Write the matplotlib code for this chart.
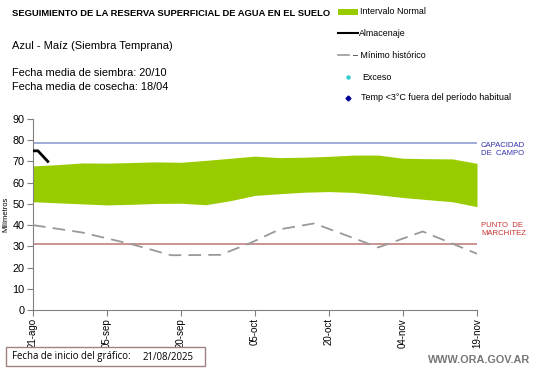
import matplotlib
matplotlib.use("Agg")
import matplotlib.pyplot as plt
from matplotlib.lines import Line2D
from matplotlib.patches import Rectangle
import numpy as np

plt.rcParams['font.family'] = ['Liberation Sans', 'DejaVu Sans']

# ---- data (days since 21-ago) ----
band_days = [0, 5, 10, 15, 20, 25, 30, 35, 40, 45, 50, 55, 60, 65, 70, 75, 80, 85, 90]
band_upper = [67.9, 68.5, 69.3, 69.2, 69.5, 69.8, 69.6, 70.5, 71.5, 72.5, 71.8, 72.0, 72.4, 73.0, 73.0, 71.5, 71.3, 71.2, 69.1]
band_lower = [51.0, 50.5, 50.0, 49.5, 49.8, 50.2, 50.3, 49.6, 51.5, 54.0, 54.8, 55.5, 55.8, 55.4, 54.3, 53.0, 52.0, 51.0, 48.7]

alm_days = [0, 1, 3]
alm_vals = [75.0, 75.0, 70.0]

min_days = [0, 10, 20, 28, 38, 44, 50, 57, 70, 79, 90]
min_vals = [40.0, 36.5, 31.0, 25.8, 26.0, 31.5, 38.0, 40.8, 29.5, 37.0, 26.5]

capacidad = 78.7
marchitez = 31.2

tick_days = [0, 15, 30, 45, 60, 75, 90]
tick_labels = ['21-ago', '05-sep', '20-sep', '05-oct', '20-oct', '04-nov', '19-nov']

W, H = 541, 368
fig = plt.figure(figsize=(W / 100, H / 100), dpi=100)
ax = fig.add_axes([33 / W, 1 - 310 / H, (477 - 33) / W, (310 - 119) / H])

ax.fill_between(band_days, band_lower, band_upper, color='#99cc00', lw=0, zorder=2)
ax.axhline(capacidad, color='#8f9fd0', lw=1.2, zorder=1)
ax.axhline(marchitez, color='#c08080', lw=1.2, zorder=1)
ax.plot(min_days, min_vals, color='#999999', lw=1.3, dashes=(7, 4), zorder=3)
ax.plot(alm_days, alm_vals, color='black', lw=2.0, zorder=4)

ax.set_xlim(0, 90)
ax.set_ylim(0, 90)
ax.set_yticks(range(0, 91, 10))
ax.set_xticks(tick_days)
ax.set_xticklabels(tick_labels, rotation=90)
ax.tick_params(axis='both', labelsize=7.8, length=4, color='#808080', pad=2)
ax.tick_params(axis='x', labelsize=7.0, pad=2)
for s in ['top', 'right']:
    ax.spines[s].set_visible(False)
for s in ['left', 'bottom']:
    ax.spines[s].set_color('#808080')
ax.set_ylabel('Milímetros', fontsize=5.5)
ax.yaxis.set_label_coords(-0.053, 0.5)

fig.text(481 / W, 1 - 149 / H, 'CAPACIDAD\nDE  CAMPO', color='#3333aa', fontsize=5.6, va='center', ha='left', linespacing=1.2)
fig.text(481 / W, 1 - 229 / H, 'PUNTO  DE\nMARCHITEZ', color='#cc3333', fontsize=5.6, va='center', ha='left', linespacing=1.2)

# header texts
fig.text(12 / W, 1 - 14 / H, 'SEGUIMIENTO DE LA RESERVA SUPERFICIAL DE AGUA EN EL SUELO',
         fontsize=6.75, fontweight='bold', va='center', ha='left')
fig.text(12 / W, 1 - 46 / H, 'Azul - Maíz (Siembra Temprana)', fontsize=8.0, va='center', ha='left')
fig.text(12 / W, 1 - 73 / H, 'Fecha media de siembra: 20/10', fontsize=7.9, va='center', ha='left')
fig.text(12 / W, 1 - 87 / H, 'Fecha media de cosecha: 18/04', fontsize=7.9, va='center', ha='left')

# legend (manual)
fig.patches.append(Rectangle((338 / W, 1 - 15 / H), 20 / W, 6 / H, transform=fig.transFigure,
                             color='#99cc00', lw=0))
fig.text(360 / W, 1 - 12 / H, 'Intervalo Normal', fontsize=6.4, va='center', ha='left')
fig.lines.append(Line2D([338 / W, 358 / W], [1 - 33 / H, 1 - 33 / H], transform=fig.transFigure,
                        color='black', lw=1.5))
fig.text(359 / W, 1 - 33 / H, 'Almacenaje', fontsize=6.4, va='center', ha='left')
fig.lines.append(Line2D([338 / W, 349 / W], [1 - 55 / H, 1 - 55 / H], transform=fig.transFigure,
                        color='#999999', lw=1.2))
fig.text(353 / W, 1 - 55 / H, '– Mínimo histórico', fontsize=6.4, va='center', ha='left')
fig.lines.append(Line2D([348 / W], [1 - 77 / H], transform=fig.transFigure, marker='o',
                        markersize=2.2, color='#33cccc', lw=0))
fig.text(362 / W, 1 - 77 / H, 'Exceso', fontsize=6.4, va='center', ha='left')
fig.lines.append(Line2D([348 / W], [1 - 98 / H], transform=fig.transFigure, marker='D',
                        markersize=2.5, color='#000099', lw=0))
fig.text(361 / W, 1 - 98 / H, 'Temp <3°C fuera del período habitual', fontsize=6.5, va='center', ha='left')

# bottom box
fig.patches.append(Rectangle((6 / W, 1 - 366 / H), 199 / W, 19 / H, transform=fig.transFigure,
                             facecolor='white', edgecolor='#a08080', lw=1))
fig.text(12 / W, 1 - 357 / H, 'Fecha de inicio del gráfico:', fontsize=6.9, va='center', ha='left',
         family=['Open Sans', 'DejaVu Sans'])
fig.text(143 / W, 1 - 357 / H, '21/08/2025', fontsize=6.9, va='center', ha='left',
         family=['Open Sans', 'DejaVu Sans'])
fig.text(530 / W, 1 - 360 / H, 'WWW.ORA.GOV.AR', fontsize=7.8, color='#777777', va='center', ha='right',
         fontweight='bold')

fig.savefig('out.png', dpi=100)
